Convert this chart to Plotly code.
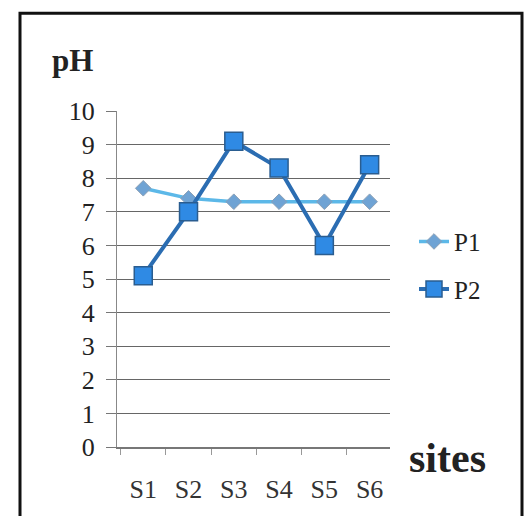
import plotly.graph_objects as go

sites = ["S1", "S2", "S3", "S4", "S5", "S6"]
p1 = [7.7, 7.4, 7.3, 7.3, 7.3, 7.3]
p2 = [5.1, 7.0, 9.1, 8.3, 6.0, 8.4]
y_ticks = [0, 1, 2, 3, 4, 5, 6, 7, 8, 9, 10]

SERIF = "Liberation Serif, Times New Roman, serif"

# plot area in pixels
L, R, T, B = 117, 390, 111, 451
W, H = 528, 516
pw, ph = R - L, B - T

def px(x):
    return (x - L) / pw

def py(y):
    return (B - y) / ph

fig = go.Figure()
fig.add_trace(go.Scatter(
    x=sites, y=p1, name="P1", mode="lines+markers", legendgroup="a",
    line=dict(color="#5cb8e8", width=3.5),
    marker=dict(symbol="diamond", size=12, color="#6fa3d4",
                line=dict(color="#8a9fb5", width=1)),
))
fig.add_trace(go.Scatter(
    x=sites, y=p2, name="P2", mode="lines+markers", legendgroup="b",
    line=dict(color="#2b6db2", width=4),
    marker=dict(symbol="square", size=18, color="#2f8ae4",
                line=dict(color="#2a5d90", width=1.5)),
))

fig.update_layout(
    width=W, height=H,
    margin=dict(l=L, r=W - R, t=T, b=H - B),
    paper_bgcolor="white", plot_bgcolor="white",
    font=dict(family=SERIF, color="#222", size=25),
    showlegend=True,
    legend=dict(x=px(414), y=py(220), xanchor="left", yanchor="top",
                tracegroupgap=12, font=dict(size=25, family=SERIF, color="#222"),
                bgcolor="rgba(0,0,0,0)"),
    xaxis=dict(type="category", range=[-0.58, 5.45],
               showgrid=False, showline=True, linecolor="#777", linewidth=1.5,
               ticks="outside", tickson="boundaries", ticklen=6, tickcolor="#999",
               ticklabelstandoff=18, tickfont=dict(size=26, family=SERIF, color="#333"),
               zeroline=False),
    yaxis=dict(range=[0, 10], tickvals=y_ticks,
               showgrid=True, gridcolor="#666", gridwidth=1.3,
               showline=True, linecolor="#888", linewidth=1,
               ticks="outside", ticklen=10, tickcolor="#777",
               ticklabelstandoff=6,
               tickfont=dict(size=26, family=SERIF, color="#222"),
               zeroline=False),
    shapes=[dict(type="rect", xref="paper", yref="paper",
                 x0=px(20), x1=px(522), y0=py(525), y1=py(12),
                 line=dict(color="#111", width=3), layer="below")],
    annotations=[
        dict(text="<b>pH</b>", xref="paper", yref="paper",
             x=px(50), y=py(60), xanchor="left", yanchor="middle",
             showarrow=False, font=dict(size=31, family=SERIF, color="#222")),
        dict(text="<b>sites</b>", xref="paper", yref="paper",
             x=px(407), y=py(462), xanchor="left", yanchor="middle",
             showarrow=False, font=dict(size=42, family=SERIF, color="#222")),
    ],
)

fig.write_html("out.html", config={"displayModeBar": False},
               post_script="document.body.style.margin='0px';")
